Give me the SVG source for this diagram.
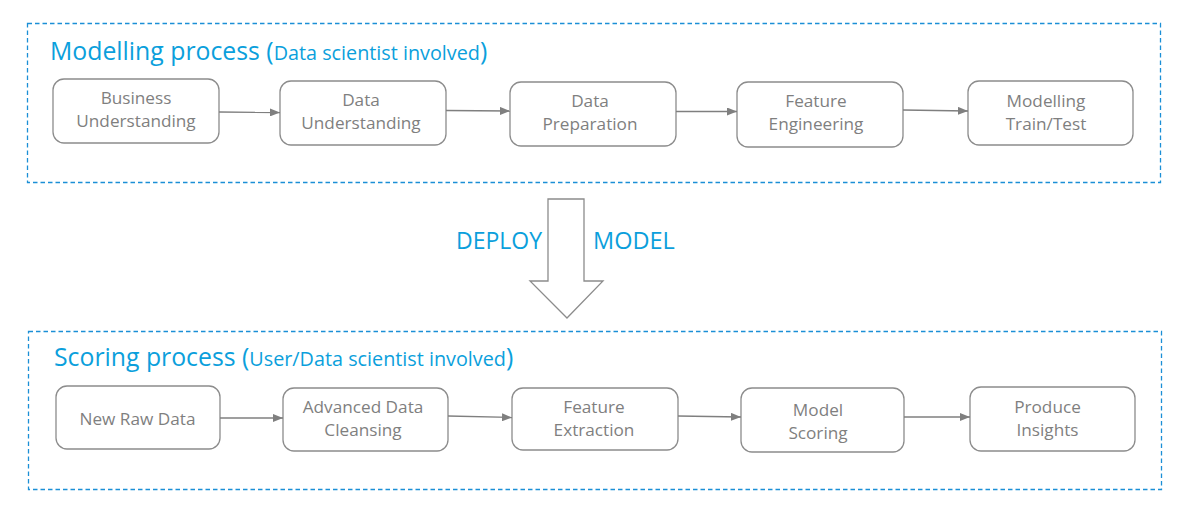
<svg xmlns="http://www.w3.org/2000/svg" width="1190" height="519" viewBox="0 0 1190 519">
<defs>
<marker id="ah" viewBox="0 0 10 8" refX="10" refY="4" markerWidth="10" markerHeight="8" markerUnits="userSpaceOnUse" orient="auto">
<path d="M0,0 L10,4 L0,8 z" fill="#7f7f7f"/>
</marker>
<style>
.grp{fill:none;stroke:#1b8fd6;stroke-width:1.3;stroke-dasharray:4.5,3}
.node{fill:#fff;stroke:#8c8c8c;stroke-width:1.3}
.nt{font-family:"Open Sans","Liberation Sans",sans-serif;font-size:17.2px;fill:#7f7f7f;text-anchor:middle}
.title{font-family:"Open Sans","Liberation Sans",sans-serif;fill:#0b9fdc}
.conn{stroke:#7f7f7f;stroke-width:1.3;fill:none;marker-end:url(#ah)}
</style>
</defs>
<rect width="1190" height="519" fill="#fff"/>

<g id="modelling-group">
<rect class="grp" x="27.5" y="23.5" width="1133" height="159"/>
<text class="title" x="50" y="60" font-size="24.8"><tspan>Modelling process (</tspan><tspan font-size="19.8">Data scientist involved</tspan><tspan>)</tspan></text>
</g>

<g id="scoring-group">
<rect class="grp" x="28.5" y="331.5" width="1133" height="158"/>
<text class="title" x="54" y="366" font-size="24.8"><tspan>Scoring process (</tspan><tspan font-size="19.8">User/Data scientist involved</tspan><tspan>)</tspan></text>
</g>

<g id="deploy">
<path d="M548,199 L584,199 L584,281 L603,281 L567,318 L530,281 L548,281 Z" fill="#fff" stroke="#8c8c8c" stroke-width="1.3"/>
<text class="title" x="456" y="249" font-size="23">DEPLOY</text>
<text class="title" x="593" y="249" font-size="23.5">MODEL</text>
</g>

<g id="n-business">
<rect class="node" x="53" y="79" width="166" height="64" rx="11"/>
<text class="nt" x="136" y="104">Business</text>
<text class="nt" x="136" y="127">Understanding</text>
</g>
<g id="n-data-understanding">
<rect class="node" x="280" y="81" width="166" height="64" rx="11"/>
<text class="nt" x="361" y="106">Data</text>
<text class="nt" x="361" y="129">Understanding</text>
</g>
<g id="n-data-preparation">
<rect class="node" x="510" y="82" width="166" height="64" rx="11"/>
<text class="nt" x="590" y="107">Data</text>
<text class="nt" x="590" y="130">Preparation</text>
</g>
<g id="n-feature-engineering">
<rect class="node" x="737" y="82" width="166" height="65" rx="11"/>
<text class="nt" x="816" y="107">Feature</text>
<text class="nt" x="816" y="130">Engineering</text>
</g>
<g id="n-modelling">
<rect class="node" x="968" y="81" width="165" height="64" rx="11"/>
<text class="nt" x="1046" y="107">Modelling</text>
<text class="nt" x="1046" y="130">Train/Test</text>
</g>

<g id="n-new-raw-data">
<rect class="node" x="56" y="386" width="164" height="63" rx="11"/>
<text class="nt" x="137.5" y="425">New Raw Data</text>
</g>
<g id="n-cleansing">
<rect class="node" x="283" y="388" width="165" height="63" rx="11"/>
<text class="nt" x="363" y="413">Advanced Data</text>
<text class="nt" x="363" y="436">Cleansing</text>
</g>
<g id="n-feature-extraction">
<rect class="node" x="512" y="388" width="166" height="62" rx="11"/>
<text class="nt" x="594" y="413">Feature</text>
<text class="nt" x="594" y="436">Extraction</text>
</g>
<g id="n-model-scoring">
<rect class="node" x="741" y="388" width="163" height="64" rx="11"/>
<text class="nt" x="818" y="416">Model</text>
<text class="nt" x="818" y="439">Scoring</text>
</g>
<g id="n-insights">
<rect class="node" x="970" y="387" width="165" height="64" rx="11"/>
<text class="nt" x="1047.5" y="413">Produce</text>
<text class="nt" x="1047.5" y="436">Insights</text>
</g>

<g id="connectors">
<line class="conn" x1="219" y1="112" x2="280" y2="112.5"/>
<line class="conn" x1="446" y1="110.5" x2="510" y2="111"/>
<line class="conn" x1="676" y1="111.5" x2="737" y2="111.5"/>
<line class="conn" x1="903" y1="110" x2="968" y2="111"/>
<line class="conn" x1="220" y1="418" x2="283" y2="418"/>
<line class="conn" x1="448" y1="416" x2="512" y2="417.5"/>
<line class="conn" x1="678" y1="416" x2="741" y2="417"/>
<line class="conn" x1="904" y1="417" x2="970" y2="417"/>
</g>
</svg>
